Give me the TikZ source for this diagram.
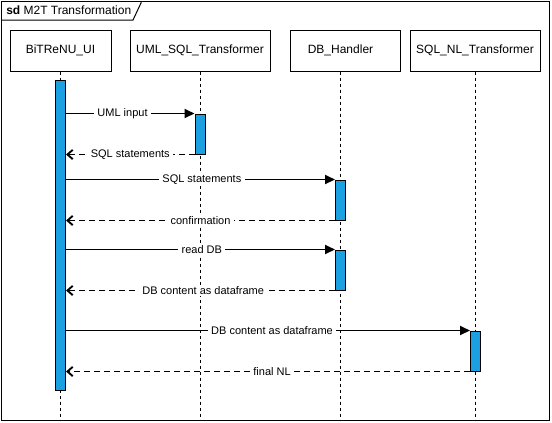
\documentclass[tikz,border=0pt]{standalone}
\usepackage{fontspec}
\setmainfont{Liberation Sans}
\usetikzlibrary{arrows.meta}
\definecolor{barblue}{HTML}{1BA1E2}
\begin{document}
\begin{tikzpicture}[x=0.75pt,y=-0.75pt,
  head/.style={draw,line width=0.75pt,minimum height=30.75pt,font=\fontsize{9}{11}\selectfont,inner sep=0pt},
  life/.style={line width=0.75pt,dash pattern=on 2.25pt off 2.25pt},
  bar/.style={draw,fill=barblue,line width=0.75pt,minimum width=7.5pt,minimum height=30pt,inner sep=0pt},
  call/.style={line width=1.4pt,-{Triangle[length=7.5pt,width=6.75pt]}},
  ret/.style={line width=1.4pt,dash pattern=on 4.5pt off 3pt,-{Straight Barb[length=4pt,width=7pt,line width=1.4pt]}},
  lbl/.style={fill=white,font=\fontsize{8.25}{10}\selectfont,inner xsep=2.5pt,inner ysep=1.2pt}
]
\useasboundingbox (0,0) rectangle (552,422);
% frame
\node[draw,line width=0.75pt,minimum width=411pt,minimum height=314.25pt,inner sep=0pt] (frame) at (275,210.5) {};
\draw[line width=0.75pt] (1,20) -- (133,20) -- (141,3) -- (141,1);
\node[anchor=west,font=\fontsize{9}{11}\selectfont,inner sep=0pt] (ftitle) at (6,10.5) {\textbf{sd} M2T Transformation};

% heads
\node[head,minimum width=75.75pt] (h1) at (60.5,50.5) {BiTReNU\_UI};
\node[head,minimum width=105pt] (h2) at (200,50.5) {UML\_SQL\_Transformer};
\node[head,minimum width=82.5pt] (h3) at (345,50.5) {};
\node[font=\fontsize{9}{11}\selectfont,inner sep=0pt] (h3t) at (340.5,50.5) {DB\_Handler};
\node[head,minimum width=97.5pt] (h4) at (475,50.5) {SQL\_NL\_Transformer};

% lifeline positions
\coordinate (l1) at (60.5,0);
\coordinate (l2) at (200,0);
\coordinate (l3) at (340.5,0);
\coordinate (l4) at (475.5,0);

\draw[life] (l1 |- h1.south) -- (l1 |- frame.south);
\draw[life] (l2 |- h2.south) -- (l2 |- frame.south);
\draw[life] (l3 |- h3.south) -- (l3 |- frame.south);
\draw[life] (l4 |- h4.south) -- (l4 |- frame.south);

% activation bars
\node[bar,minimum height=232.5pt] (b1) at (60.5,235) {};
\node[bar] (b2) at (200,134) {};
\node[bar] (b3) at (340.5,200) {};
\node[bar] (b4) at (340.5,270) {};
\node[bar] (b5) at (475.5,351) {};

% messages
\draw[call] (b1.east |- b2.north) -- node[lbl,pos=.44]{UML input} (b2.north west);
\draw[ret] (b2.south west) -- node[lbl,pos=.5]{SQL statements} (b1.east |- b2.south);
\draw[call] (b1.east |- b3.north) -- node[lbl,pos=.505]{SQL statements} (b3.north west);
\draw[ret] (b3.south west) -- node[lbl,pos=.5]{confirmation} (b1.east |- b3.south);
\draw[call] (b1.east |- b4.north) -- node[lbl,pos=.505]{read DB} (b4.north west);
\draw[ret] (b4.south west) -- node[lbl,pos=.49]{DB content as dataframe} (b1.east |- b4.south);
\draw[call] (b1.east |- b5.north) -- node[lbl,pos=.51]{DB content as dataframe} (b5.north west);
\draw[ret] (b5.south west) -- node[lbl,pos=.49]{final NL} (b1.east |- b5.south);
\end{tikzpicture}
\end{document}
